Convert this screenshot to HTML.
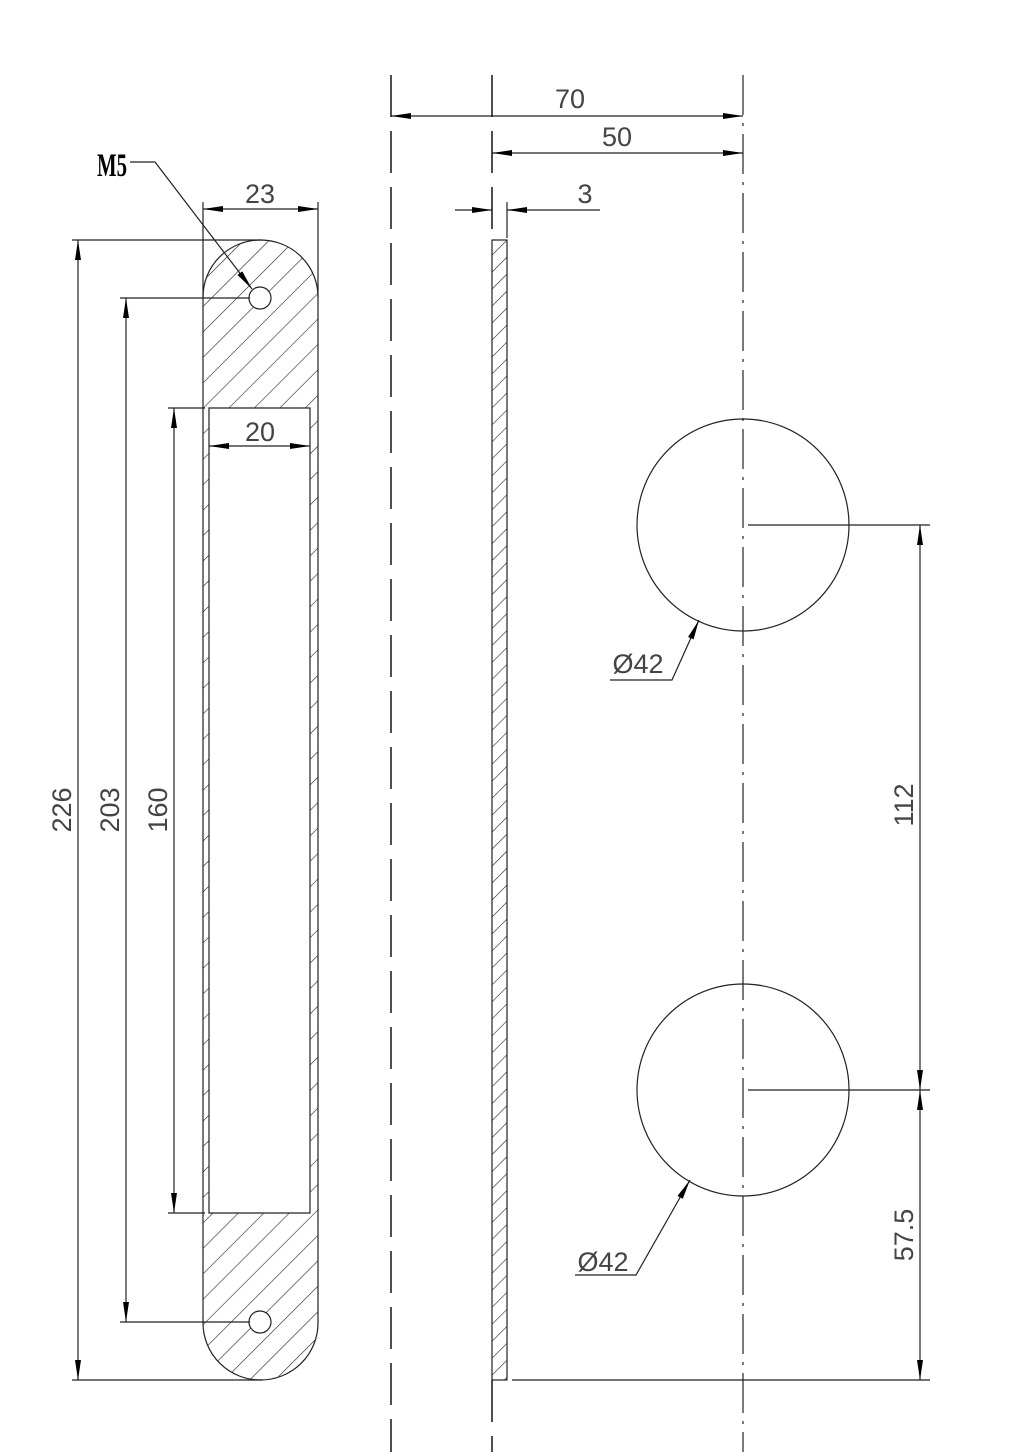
<!DOCTYPE html>
<html><head><meta charset="utf-8"><style>html,body{margin:0;padding:0;background:#fff}svg{display:block}</style></head><body>
<svg width="1026" height="1452" viewBox="0 0 1026 1452" xmlns="http://www.w3.org/2000/svg">
<defs>
<pattern id="h" patternUnits="userSpaceOnUse" width="18" height="18" patternTransform="rotate(45)">
<line x1="0" y1="0" x2="0" y2="18" stroke="#222" stroke-width="1.2"/>
</pattern>
<pattern id="h2" patternUnits="userSpaceOnUse" width="12" height="12" patternTransform="rotate(45)">
<line x1="0" y1="0" x2="0" y2="12" stroke="#222" stroke-width="1.2"/>
</pattern>
<marker id="a" viewBox="0 0 20 6" refX="20" refY="3" markerWidth="20" markerHeight="6" markerUnits="userSpaceOnUse" orient="auto-start-reverse"><path d="M0,0 L20,3 L0,6z" fill="#000"/></marker>
</defs>
<g fill="none" stroke="#222" stroke-width="1.2">
<path d="M203,297 A57.5,57 0 0 1 318,297 L318,1323 A57.5,57 0 0 1 203,1323 Z M209,408 L209,1213 L310,1213 L310,408 Z" fill="url(#h)" fill-rule="evenodd"/>
<circle cx="260" cy="298" r="11" fill="#fff"/>
<circle cx="260" cy="1322" r="11" fill="#fff"/>
<rect x="492" y="240" width="15" height="1140" fill="url(#h2)"/>
<line x1="391" y1="75" x2="391" y2="1452" stroke-dasharray="42,14" stroke-width="1.6"/>
<line x1="492" y1="75" x2="492" y2="240" stroke-dasharray="42,14" stroke-width="1.6"/>
<line x1="492" y1="1380" x2="492" y2="1452" stroke-dasharray="42,14" stroke-width="1.6"/>
<line x1="743" y1="75" x2="743" y2="1452" stroke-dasharray="40,8,3,8"/>
<circle cx="743" cy="525" r="106"/>
<circle cx="743" cy="1090" r="106"/>
<line x1="72" y1="240" x2="262" y2="240"/>
<line x1="120" y1="298" x2="250" y2="298"/>
<line x1="168" y1="408" x2="205" y2="408"/>
<line x1="168" y1="1213" x2="205" y2="1213"/>
<line x1="120" y1="1322" x2="250" y2="1322"/>
<line x1="72" y1="1380" x2="262" y2="1380"/>
<line x1="203" y1="202" x2="203" y2="297"/>
<line x1="318" y1="202" x2="318" y2="297"/>
<line x1="507" y1="202" x2="507" y2="238"/>
<line x1="748" y1="525" x2="930" y2="525"/>
<line x1="748" y1="1090" x2="930" y2="1090"/>
<line x1="512" y1="1380" x2="930" y2="1380"/>
<g marker-start="url(#a)" marker-end="url(#a)">
<line x1="78" y1="240" x2="78" y2="1380"/>
<line x1="126" y1="298" x2="126" y2="1322"/>
<line x1="174" y1="408" x2="174" y2="1213"/>
<line x1="203" y1="209" x2="318" y2="209"/>
<line x1="209" y1="446" x2="310" y2="446"/>
<line x1="391" y1="116" x2="743" y2="116"/>
<line x1="492" y1="153" x2="743" y2="153"/>
<line x1="920" y1="525" x2="920" y2="1090"/>
<line x1="920" y1="1090" x2="920" y2="1380"/>
</g>
<line x1="455" y1="210" x2="492" y2="210" marker-end="url(#a)"/>
<line x1="600" y1="210" x2="507" y2="210" marker-end="url(#a)"/>
<polyline points="610,680 672,680 699,620" marker-end="url(#a)"/>
<polyline points="575,1275 636,1275 690,1180" marker-end="url(#a)"/>
<polyline points="130,162 155,162 252,289" marker-end="url(#a)"/>
</g>
<g font-family="Liberation Sans, sans-serif" font-size="27" fill="#444" text-anchor="middle">
<text x="570" y="108">70</text>
<text x="617" y="146">50</text>
<text x="585" y="203">3</text>
<text x="260" y="203">23</text>
<text x="260" y="441">20</text>
<text x="638" y="673">Ø42</text>
<text x="603" y="1271">Ø42</text>
<text transform="translate(71,810) rotate(-90)">226</text>
<text transform="translate(119,810) rotate(-90)">203</text>
<text transform="translate(167,810) rotate(-90)">160</text>
<text transform="translate(913,805) rotate(-90)">112</text>
<text transform="translate(913,1235) rotate(-90)">57.5</text>
</g>
<text transform="translate(112,176) scale(0.8,1.25)" font-family="Liberation Serif, serif" font-weight="bold" font-size="26" text-anchor="middle" fill="#000">M5</text>
</svg>
</body></html>
